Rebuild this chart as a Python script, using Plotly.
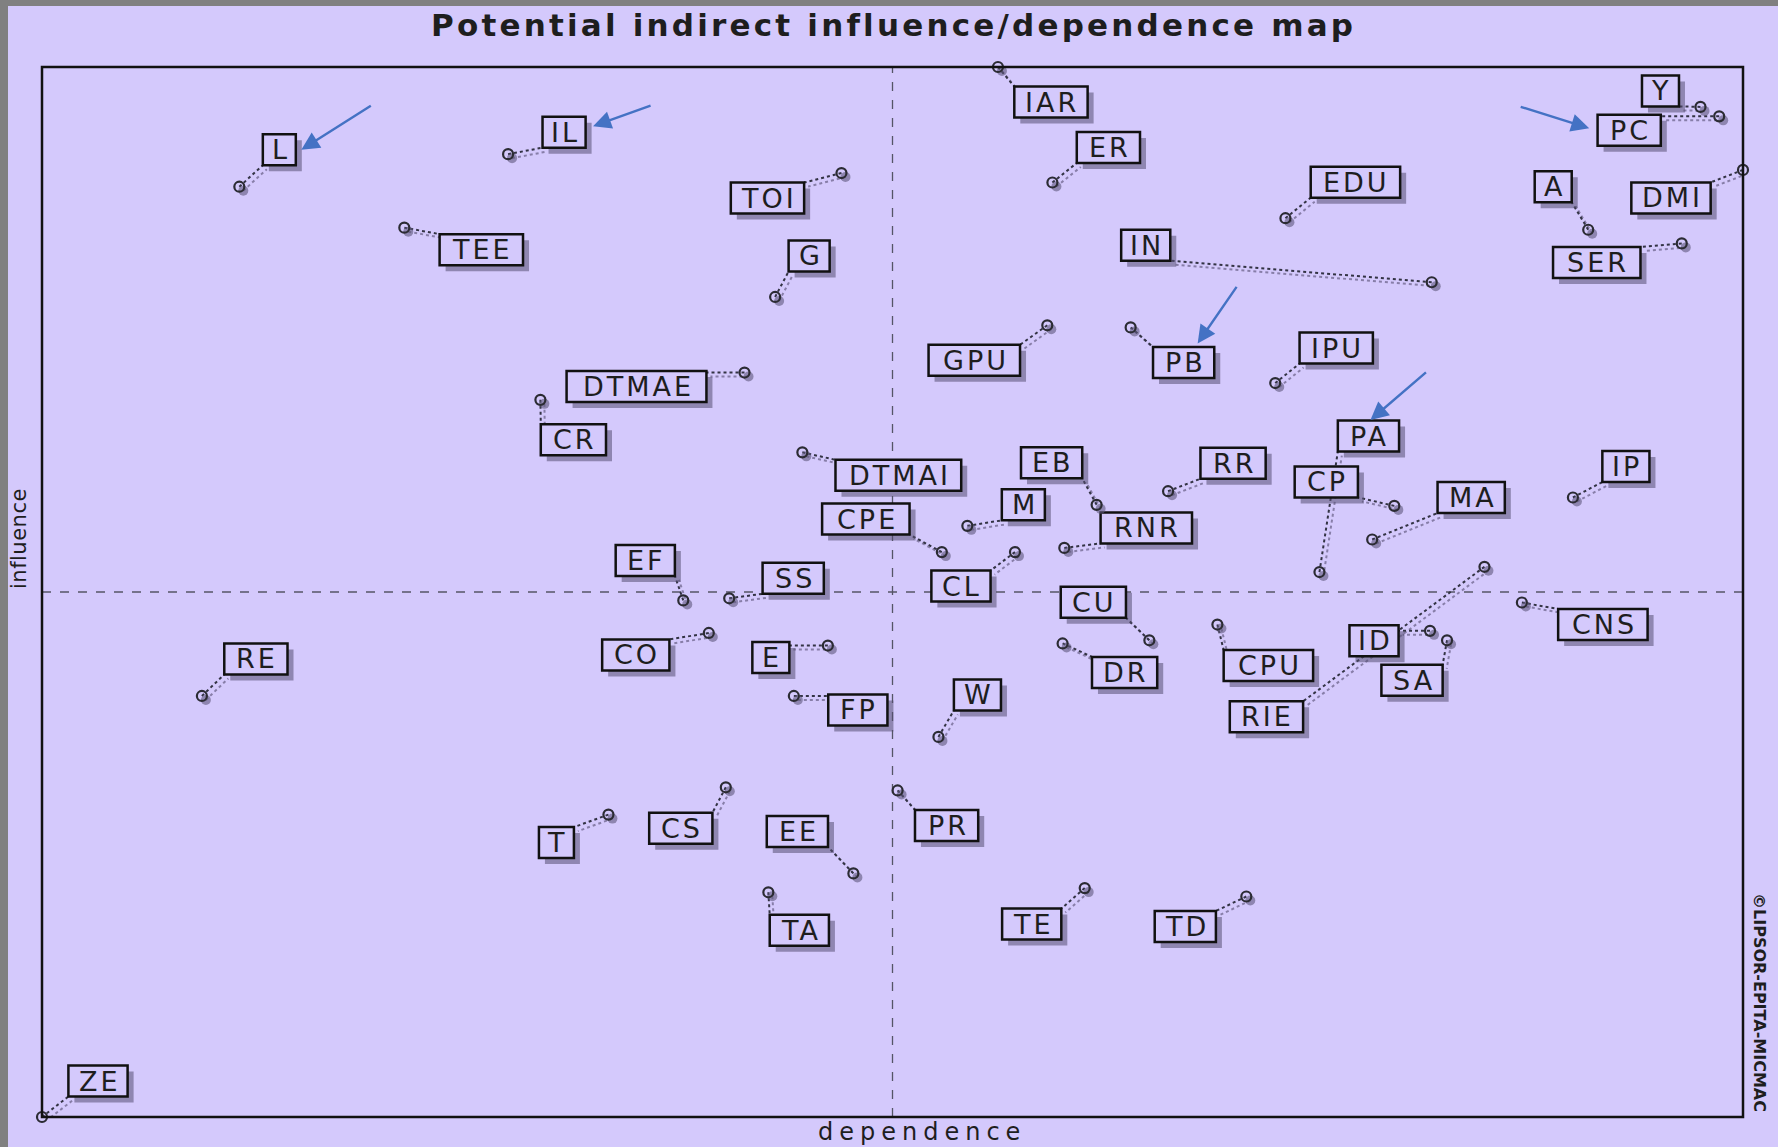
import plotly.graph_objects as go

# ---------------- data ----------------
NAMES = ["L", "IL", "TEE", "TOI", "G", "IAR", "ER", "EDU", "IN", "Y", "PC", "A", "DMI", "SER",
         "GPU", "PB", "IPU", "DTMAE", "CR", "PA", "CP", "DTMAI", "EB", "M", "RR", "RNR", "MA",
         "IP", "CPE", "CL", "EF", "SS", "CU", "CNS", "RE", "CO", "E", "DR", "CPU", "ID", "SA",
         "RIE", "FP", "W", "T", "CS", "EE", "PR", "TA", "TE", "TD", "ZE"]
DEPENDENCE = [11.6, 27.4, 21.3, 47.0, 43.1, 56.2, 59.4, 73.1, 81.7, 97.5, 98.6, 90.9, 100.0, 96.4,
              59.1, 64.0, 72.5, 41.3, 29.3, 75.1, 79.5, 44.7, 62.0, 54.4, 66.2, 60.1, 78.2,
              90.0, 52.9, 57.2, 37.7, 40.4, 65.1, 87.0, 9.4, 39.2, 46.2, 60.0, 69.1, 81.6, 82.6,
              84.8, 44.2, 52.7, 33.3, 40.2, 47.7, 50.3, 42.7, 61.3, 70.8, 0.0]
INFLUENCE = [88.6, 91.7, 84.7, 89.9, 78.1, 100.0, 89.0, 85.6, 79.5, 96.2, 95.3, 84.5, 90.2, 83.2,
             75.4, 75.2, 69.9, 70.9, 68.3, 51.9, 58.2, 63.3, 58.3, 56.3, 59.6, 54.2, 55.0,
             59.0, 53.8, 53.8, 49.2, 49.4, 45.4, 49.0, 40.1, 46.1, 44.9, 45.1, 46.9, 46.3, 45.4,
             52.4, 40.1, 36.2, 28.8, 31.4, 23.2, 31.1, 21.4, 21.8, 21.0, 0.0]
HIGHLIGHTED = ["L", "IL", "PC", "PB", "PA"]

TITLE = "Potential indirect influence/dependence map"
X_TITLE = "dependence"
Y_TITLE = "influence"
CREDIT = "©LIPSOR-EPITA-MICMAC"

# ---------------- layout / style (pixels) ----------------
W, H = 1778, 1147
PL, PR_, PT, PB_ = 42, 1743, 67, 1117
XMIN, XMAX, YMIN, YMAX = 0.0, 100.0, 0.0, 100.0
BG = "#D4C9FC"
INK = "#1e1e1e"
BLUE = "#4472C4"

# label box centre offsets from the point (px, screen direction)
LABEL_OFFSET = {
    "L": (40, -37), "IL": (56, -22), "TEE": (77, 22), "TOI": (-74, 25), "G": (34, -41),
    "IAR": (53, 35), "ER": (56, -35), "EDU": (70, -36), "IN": (-286, -37), "Y": (-40, -16),
    "PC": (-90, 14), "A": (-35, -43), "DMI": (-72, 28), "SER": (-85, 19), "GPU": (-73, 35),
    "PB": (53, 35), "IPU": (61, -35), "DTMAE": (-108, 14), "CR": (33, 40), "PA": (49, -136),
    "CP": (-68, -24), "DTMAI": (96, 23), "EB": (-45, -42), "M": (56, -21), "RR": (65, -28),
    "RNR": (82, -20), "MA": (99, -42), "IP": (53, -31), "CPE": (-76, -33), "CL": (-54, 34),
    "EF": (-38, -40), "SS": (64, -20), "CU": (-56, -38), "CNS": (81, 22), "RE": (54, -37),
    "CO": (-73, 22), "E": (-57, 12), "DR": (62, 29), "CPU": (51, 41), "ID": (-56, 10),
    "SA": (-35, 40), "RIE": (-218, 150), "FP": (64, 14), "W": (39, -42), "T": (-52, 28),
    "CS": (-45, 41), "EE": (-56, -42), "PR": (49, 35), "TA": (31, 38), "TE": (-53, 36),
    "TD": (-61, 30), "ZE": (56, -36),
}
# blue arrows: tip offset from label box centre, tail offset from tip (px)
ARROW_GEOM = {
    "L": (22, 0, 71, -45), "IL": (29, -6, 59, -21), "PC": (-40, -2, -70, -22),
    "PB": (14, -19, 40, -58), "PA": (2, -16, 57, -49),
}
ARIAL_W = {"A": .667, "B": .667, "C": .722, "D": .722, "E": .667, "F": .611, "G": .778,
           "I": .278, "L": .556, "M": .833, "N": .722, "O": .778, "P": .667, "R": .722,
           "S": .667, "T": .611, "U": .722, "W": .944, "Y": .667, "Z": .611}
BOX_H = 31
LS = 3
SX = (PR_ - PL) / (XMAX - XMIN)
SY = (PB_ - PT) / (YMAX - YMIN)


def to_px(x, y):
    return PL + (x - XMIN) * SX, PB_ - (y - YMIN) * SY


def to_data(px, py):
    return XMIN + (px - PL) / SX, YMIN + (PB_ - py) / SY


def paper(px, py):
    return (px - PL) / (PR_ - PL), (PB_ - py) / (PB_ - PT)


def box_w(name):
    return 12.8 + 36.3 * sum(ARIAL_W.get(c, .667) for c in name)


shapes, annotations = [], []
# centre dashed axes
xm, ym = (XMIN + XMAX) / 2, (YMIN + YMAX) / 2
shapes.append(dict(type="line", xref="x", yref="y", x0=xm, x1=xm, y0=YMIN, y1=YMAX,
                   line=dict(color="#555566", width=1.3, dash="dash"), layer="below"))
shapes.append(dict(type="line", xref="x", yref="y", x0=XMIN, x1=XMAX, y0=ym, y1=ym,
                   line=dict(color="#555566", width=1.3, dash="dash"), layer="below"))

boxes = {}
conn, conn_sh = [], []
for n, x, y in zip(NAMES, DEPENDENCE, INFLUENCE):
    cx, cy = to_px(x, y)
    dx, dy = LABEL_OFFSET[n]
    bx, by = cx + dx, cy + dy
    bw = box_w(n)
    boxes[n] = (bx, by, bw)
    ex = min(max(cx, bx - bw / 2), bx + bw / 2)
    ey = min(max(cy, by - BOX_H / 2), by + BOX_H / 2)
    for off, col, lst in ((4, "rgba(110,100,140,0.75)", conn_sh), (0, "#333344", conn)):
        x0, y0 = to_data(cx + off, cy + off)
        x1, y1 = to_data(ex + off, ey + off)
        lst.append(dict(type="line", xref="x", yref="y", x0=x0, y0=y0, x1=x1, y1=y1,
                        line=dict(color=col, width=2, dash="dot"), layer="below"))
shapes += conn_sh + conn

for n in NAMES:
    bx, by, bw = boxes[n]
    sxd, syd = to_data(bx + 6, by + 6)
    shapes.append(dict(type="rect", xref="x", yref="y", xsizemode="pixel", ysizemode="pixel",
                       xanchor=sxd, yanchor=syd, x0=-bw / 2, x1=bw / 2, y0=-BOX_H / 2, y1=BOX_H / 2,
                       line=dict(width=0), fillcolor="rgba(85,78,115,0.55)", layer="below"))
    bxd, byd = to_data(bx, by)
    shapes.append(dict(type="rect", xref="x", yref="y", xsizemode="pixel", ysizemode="pixel",
                       xanchor=bxd, yanchor=byd, x0=-bw / 2, x1=bw / 2, y0=-BOX_H / 2, y1=BOX_H / 2,
                       line=dict(color="#111111", width=2.5), fillcolor=BG, layer="below"))
    annotations.append(dict(x=bxd, y=byd, xref="x", yref="y", showarrow=False,
                            text=f'<span style="letter-spacing:{LS}px">{n}</span>',
                            xshift=LS / 2, font=dict(family="DejaVu Sans", size=27, color=INK),
                            xanchor="center", yanchor="middle"))

for n in HIGHLIGHTED:
    bx, by, bw = boxes[n]
    tdx, tdy, ax, ay = ARROW_GEOM[n]
    tx, ty = to_data(bx + tdx, by + tdy)
    annotations.append(dict(x=tx, y=ty, xref="x", yref="y", text="", showarrow=True,
                            ax=ax, ay=ay, arrowhead=2, arrowsize=1.5, arrowwidth=2.4,
                            arrowcolor=BLUE, standoff=0))

# frame and grey picture border
shapes.append(dict(type="rect", xref="paper", yref="paper", x0=0, x1=1, y0=0, y1=1,
                   line=dict(color="#111111", width=2.5), layer="above"))
gx0, gy0 = paper(0, H)
gx1, gy1 = paper(8, 0)
shapes.append(dict(type="rect", xref="paper", yref="paper", x0=gx0, x1=gx1, y0=gy0, y1=gy1,
                   line=dict(width=0), fillcolor="#808080", layer="above"))
tx0, ty0 = paper(0, 6)
tx1, ty1 = paper(W, 0)
shapes.append(dict(type="rect", xref="paper", yref="paper", x0=tx0, x1=tx1, y0=ty0, y1=ty1,
                   line=dict(width=0), fillcolor="#808080", layer="above"))

px_, py_ = paper(893, 25)
annotations.append(dict(x=px_, y=py_, xref="paper", yref="paper", showarrow=False,
                        text=f'<span style="letter-spacing:3.2px">{TITLE}</span>',
                        font=dict(family="DejaVu Sans", size=31, color=INK, weight="bold"),
                        xanchor="center", yanchor="middle"))
px_, py_ = paper(922, 1132)
annotations.append(dict(x=px_, y=py_, xref="paper", yref="paper", showarrow=False,
                        text=f'<span style="letter-spacing:6px">{X_TITLE}</span>',
                        font=dict(family="DejaVu Sans", size=24, color=INK),
                        xanchor="center", yanchor="middle"))
px_, py_ = paper(19, 539)
annotations.append(dict(x=px_, y=py_, xref="paper", yref="paper", showarrow=False,
                        text=f'<span style="letter-spacing:0.5px">{Y_TITLE}</span>', textangle=-90,
                        font=dict(family="DejaVu Sans", size=21, color=INK),
                        xanchor="center", yanchor="middle"))
px_, py_ = paper(1760, 1003)
annotations.append(dict(x=px_, y=py_, xref="paper", yref="paper", showarrow=False,
                        text=CREDIT, textangle=90,
                        font=dict(family="DejaVu Sans", size=16, color=INK, weight="bold"),
                        xanchor="center", yanchor="middle"))

fig = go.Figure()
sdx, sdy = 4 / SX, -4 / SY
fig.add_trace(go.Scatter(x=[v + sdx for v in DEPENDENCE], y=[v + sdy for v in INFLUENCE],
                         mode="markers", cliponaxis=False, hoverinfo="skip",
                         marker=dict(symbol="circle", size=10, color="rgba(95,88,125,0.6)")))
fig.add_trace(go.Scatter(x=DEPENDENCE, y=INFLUENCE, text=NAMES, mode="markers", cliponaxis=False,
                         marker=dict(symbol="circle-open", size=10, color="#2b2b33",
                                     line=dict(width=2.2, color="#2b2b33"))))

fig.update_layout(
    width=W, height=H, showlegend=False,
    paper_bgcolor=BG, plot_bgcolor=BG,
    margin=dict(l=PL, r=W - PR_, t=PT, b=H - PB_),
    xaxis=dict(range=[XMIN, XMAX], showgrid=False, zeroline=False, showticklabels=False,
               ticks="", showline=False, fixedrange=True),
    yaxis=dict(range=[YMIN, YMAX], showgrid=False, zeroline=False, showticklabels=False,
               ticks="", showline=False, fixedrange=True),
    shapes=shapes, annotations=annotations,
)
fig.write_html("out.html", config={"displayModeBar": False},
               post_script="document.body.style.margin='0';document.body.style.overflow='hidden';")
